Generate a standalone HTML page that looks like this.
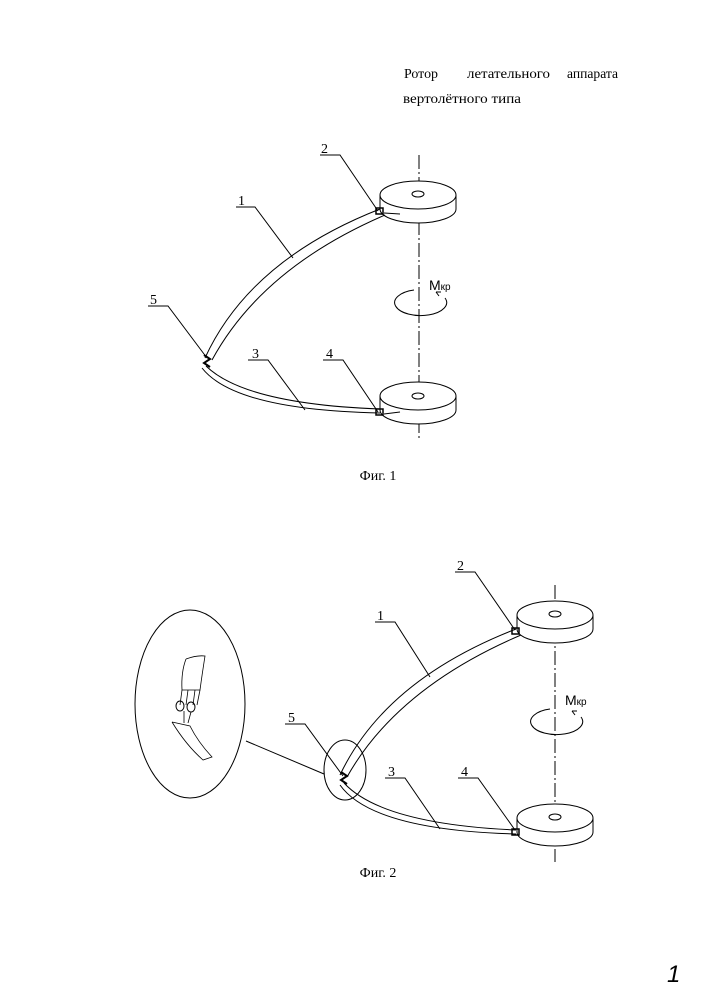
<!DOCTYPE html>
<html><head><meta charset="utf-8"><style>
body{margin:0;background:#fff}
svg{display:block}
text{font-family:"Liberation Serif",serif;fill:#000}
.s{font-family:"Liberation Sans",sans-serif}
</style></head><body>
<svg width="707" height="1000" viewBox="0 0 707 1000" xmlns="http://www.w3.org/2000/svg">
<text x="404" y="78" font-size="14" textLength="34" lengthAdjust="spacingAndGlyphs">Ротор</text>
<text x="467" y="78" font-size="14" textLength="83" lengthAdjust="spacingAndGlyphs">летательного</text>
<text x="567" y="78" font-size="14" textLength="51" lengthAdjust="spacingAndGlyphs">аппарата</text>
<text x="403" y="103" font-size="14" textLength="118" lengthAdjust="spacingAndGlyphs">вертолётного типа</text>

<!-- FIG 1 -->
<g fill="none" stroke="#000" stroke-width="1">
<line x1="419" y1="155" x2="419" y2="440" stroke-dasharray="14,3,2,3"/>
<path d="M380,195 L380,209 A38,14 0 0 0 456,209 L456,195" fill="#fff"/>
<ellipse cx="418" cy="195" rx="38" ry="14" fill="#fff"/>
<ellipse cx="418" cy="194" rx="6" ry="3"/>
<path d="M380,396 L380,410 A38,14 0 0 0 456,410 L456,396" fill="#fff"/>
<ellipse cx="418" cy="396" rx="38" ry="14" fill="#fff"/>
<ellipse cx="418" cy="396" rx="6" ry="3"/>
<path d="M380,209 Q250,260 205,358"/>
<path d="M385,215 Q262,268 212,360"/>
<path d="M384,213 L400,214"/>
<path d="M202,368 Q235,410 380,413"/>
<path d="M206,366 Q245,404 380,409"/>
<path d="M384,414 L400,412"/>
<rect x="376" y="208" width="7" height="6" stroke-width="1.5"/>
<rect x="376" y="409" width="7" height="6" stroke-width="1.5"/>
<path d="M204,355 l6,4 -6,4 6,4" stroke-width="2"/>
<polyline points="320,155 340,155 378,211"/>
<polyline points="236,207 255,207 293,258"/>
<polyline points="148,306 168,306 207,358"/>
<polyline points="248,360 268,360 305,410"/>
<polyline points="323,360 343,360 378,412"/>
<path d="M414,290 A26,13 0 1 0 445,298"/>
<path d="M436,292 l5,0 M436,292 l3,4"/>
</g>
<text x="321" y="153" font-size="14">2</text>
<text x="238" y="205" font-size="14">1</text>
<text x="150" y="304" font-size="14">5</text>
<text x="252" y="358" font-size="14">3</text>
<text x="326" y="358" font-size="14">4</text>
<text x="429" y="290" font-size="14" class="s">М<tspan font-size="10">кр</tspan></text>
<text x="378" y="480" font-size="14" text-anchor="middle">Фиг. 1</text>

<!-- FIG 2 -->
<g fill="none" stroke="#000" stroke-width="1">
<line x1="555" y1="585" x2="555" y2="862" stroke-dasharray="14,3,2,3"/>
<path d="M517,615 L517,629 A38,14 0 0 0 593,629 L593,615" fill="#fff"/>
<ellipse cx="555" cy="615" rx="38" ry="14" fill="#fff"/>
<ellipse cx="555" cy="614" rx="6" ry="3"/>
<path d="M517,818 L517,832 A38,14 0 0 0 593,832 L593,818" fill="#fff"/>
<ellipse cx="555" cy="818" rx="38" ry="14" fill="#fff"/>
<ellipse cx="555" cy="817" rx="6" ry="3"/>
<path d="M516,629 Q385,680 340,775"/>
<path d="M521,635 Q397,688 347,777"/>
<path d="M340,785 Q372,830 516,834"/>
<path d="M344,783 Q382,824 516,830"/>
<rect x="512" y="628" width="7" height="6" stroke-width="1.5"/>
<rect x="512" y="829" width="7" height="6" stroke-width="1.5"/>
<path d="M341,772 l6,4 -6,4 6,4" stroke-width="2"/>
<ellipse cx="345" cy="770" rx="21" ry="30"/>
<ellipse cx="190" cy="704" rx="55" ry="94"/>
<line x1="246" y1="741" x2="324" y2="774"/>
<path d="M186,659 Q197,655 205,656 Q202,675 200,690 L182,690 Q181,672 186,659" stroke-width="0.8"/>
<path d="M182,690 L180,705 M188,690 L186,705 M195,690 L193,705 M200,690 L197,705" stroke-width="0.8"/>
<ellipse cx="180" cy="706" rx="4" ry="5"/>
<ellipse cx="191" cy="707" rx="4" ry="5"/>
<path d="M184,711 L184,723 M191,712 L188,723" stroke-width="0.8"/>
<path d="M172,722 L190,726 Q198,742 212,757 L203,760 Q186,745 172,722" stroke-width="0.8"/>
<polyline points="455,572 475,572 515,630"/>
<polyline points="375,622 395,622 430,677"/>
<polyline points="285,724 305,724 343,776"/>
<polyline points="385,778 405,778 440,829"/>
<polyline points="458,778 478,778 515,830"/>
<path d="M550,709 A26,13 0 1 0 581,717"/>
<path d="M572,711 l5,0 M572,711 l3,4"/>
</g>
<text x="457" y="570" font-size="14">2</text>
<text x="377" y="620" font-size="14">1</text>
<text x="288" y="722" font-size="14">5</text>
<text x="388" y="776" font-size="14">3</text>
<text x="461" y="776" font-size="14">4</text>
<text x="565" y="705" font-size="14" class="s">М<tspan font-size="10">кр</tspan></text>
<text x="378" y="877" font-size="14" text-anchor="middle">Фиг. 2</text>

<text x="667" y="982" font-size="24" font-style="italic" class="s">1</text>
</svg>
</body></html>
